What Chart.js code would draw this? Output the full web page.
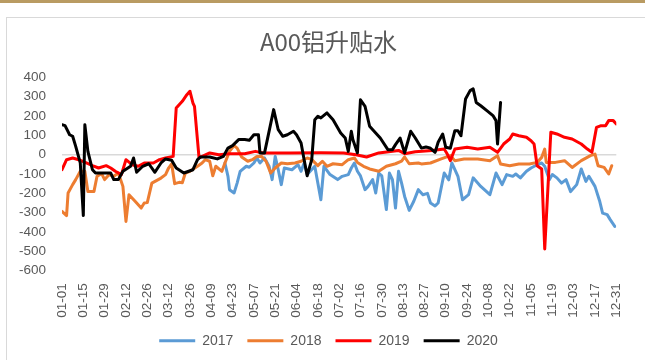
<!DOCTYPE html>
<html>
<head>
<meta charset="utf-8">
<script src="https://cdn.jsdelivr.net/npm/chart.js@4/dist/chart.umd.min.js"></script>
<style>
  html, body { margin: 0; padding: 0; background: #fff; }
  body { width: 645px; height: 360px; position: relative; overflow: hidden; }
  #topbar { position: absolute; left: 0; top: 0; width: 645px; height: 3px; background: #B99B62; }
  #frame { position: absolute; left: 6px; top: 17px; width: 660px; height: 360px;
           border-left: 1px solid #D9D9D9; border-top: 1px solid #D9D9D9; }
  #wrap { position: absolute; left: 0; top: 0; width: 645px; height: 360px; }
</style>
</head>
<body>
<div id="topbar"></div>
<div id="frame"></div>
<div id="wrap"><canvas id="chart"></canvas></div>
<script>
// x = day of year (0 = 01-01), y = premium / discount
const tickLabels = ['01-01', '01-15', '01-29', '02-12', '02-26', '03-12', '03-26', '04-09', '04-23',
    '05-07', '05-21', '06-04', '06-18', '07-02', '07-16', '07-30', '08-13', '08-27', '09-10',
    '09-24', '10-08', '10-22', '11-05', '11-19', '12-03', '12-17', '12-31'];

const seriesNames = ['2017', '2018', '2019', '2020'];
const seriesColors = ['#5B9BD5', '#ED7D31', '#FF0000', '#000000'];

const s2017 = [[107,-43],[109,-112],[110,-181],[113,-198],[115,-147],[117,-86],[121,-60],[123,-65],
    [126,-43],[128,-17],[130,-43],[133,-17],[136,-60],[138,-129],[140,-9],[142,-78],[144,-155],[146,-69],
    [151,-78],[155,-52],[157,-86],[159,-43],[161,-103],[166,-60],[170,-233],[172,-60],[176,-103],[181,-129],
    [184,-112],[188,-103],[190,-69],[192,-43],[194,-86],[196,-110],[199,-181],[201,-164],[204,-129],[206,-198],
    [208,-95],[210,-110],[213,-284],[215,-95],[217,-129],[219,-276],[221,-86],[223,-147],[225,-216],[228,-288],
    [231,-241],[234,-181],[237,-207],[240,-200],[242,-250],[245,-265],[247,-250],[251,-95],[254,-130],
    [256,-43],[260,-112],[263,-233],[267,-207],[270,-120],[275,-164],[281,-207],[285,-95],[289,-155],
    [292,-103],[296,-112],[298,-100],[301,-120],[305,-86],[308,-69],[312,-52],[315,-43],[317,-60],[320,-129],
    [322,-103],[325,-120],[328,-147],[331,-129],[334,-191],[338,-155],[341,-74],[344,-138],[346,-112],
    [350,-164],[353,-238],[355,-302],[358,-310],[360,-336],[363,-371]];

const s2018 = [[0,-293],[3,-315],[4,-198],[7,-155],[9,-129],[12,-86],[15,-86],[17,-190],[21,-190],
    [23,-112],[26,-98],[28,-129],[31,-103],[34,-112],[37,-95],[40,-164],[42,-345],[44,-207],[48,-241],
    [52,-276],[54,-250],[56,-248],[59,-147],[62,-134],[65,-121],[68,-103],[70,-69],[72,-47],[74,-150],
    [77,-143],[79,-145],[81,-95],[84,-86],[89,-60],[92,-43],[94,-26],[97,-34],[99,-109],[101,-60],[105,-86],
    [107,-43],[110,17],[113,47],[115,34],[118,-12],[122,-34],[125,-26],[128,-9],[131,-9],[134,-34],[137,-95],
    [140,-69],[144,-43],[148,-47],[153,-43],[157,-34],[161,-17],[164,-26],[168,-57],[171,-34],[174,-60],
    [178,-47],[184,-52],[188,-26],[192,-17],[194,-40],[198,-60],[202,-74],[208,-86],[213,-60],[219,-47],
    [223,-34],[225,-12],[228,-47],[234,-43],[236,-48],[242,-43],[249,-22],[255,-5],[258,-31],[264,-22],
    [273,-22],[281,-31],[286,-5],[288,-48],[294,-57],[300,-48],[307,-48],[312,-40],[315,-14],[317,29],
    [318,-40],[324,-40],[330,-31],[335,-66],[341,-31],[347,-5],[350,3],[352,-57],[356,-66],[359,-100],[361,-57]];

const s2019 = [[0,-78],[3,-26],[7,-17],[11,-26],[16,-43],[20,-57],[24,-69],[29,-57],[32,-69],[35,-86],
    [39,-103],[42,-26],[46,-52],[50,-60],[54,-43],[60,-43],[64,-26],[68,-17],[73,-9],[75,241],[79,276],
    [82,310],[84,328],[86,267],[87,250],[90,-17],[97,9],[103,0],[110,5],[120,5],[127,17],[132,9],[150,9],
    [170,10],[185,9],[193,0],[200,-12],[208,9],[221,22],[225,5],[232,15],[243,21],[251,29],[253,3],[255,-31],
    [258,29],[266,38],[273,29],[281,38],[286,12],[290,55],[294,81],[296,107],[300,98],[305,90],[308,72],
    [310,55],[312,-57],[315,-74],[317,-488],[321,116],[325,107],[330,90],[335,81],[341,55],[345,29],[348,12],
    [351,141],[354,150],[357,150],[359,176],[362,176],[364,159]];

const s2020 = [[0,155],[2,150],[5,103],[7,95],[9,43],[12,-43],[14,-315],[15,155],[17,17],[20,-78],
    [22,-95],[32,-95],[34,-129],[37,-129],[40,-86],[45,-60],[47,-17],[49,-91],[53,-60],[57,-47],[61,-91],
    [65,-43],[68,-22],[72,-29],[75,-69],[80,-95],[86,-78],[89,-26],[91,-12],[97,-12],[102,-22],[106,-9],
    [109,34],[112,47],[116,78],[120,78],[123,74],[126,103],[129,103],[130,9],[133,9],[139,233],[142,129],
    [145,95],[148,103],[152,121],[154,103],[157,60],[159,-26],[161,-109],[164,-26],[166,181],[168,198],
    [170,190],[174,216],[178,181],[183,112],[186,86],[188,17],[190,121],[191,78],[194,9],[196,284],[199,250],
    [202,147],[206,112],[209,86],[214,26],[217,26],[219,52],[222,86],[225,9],[229,121],[232,86],[236,34],
    [239,40],[242,33],[245,12],[247,64],[250,107],[252,38],[255,33],[258,124],[260,124],[262,98],[265,288],
    [268,331],[270,340],[272,270],[275,253],[279,228],[283,202],[285,176],[286,55],[288,270]];

const seriesData = [s2017, s2018, s2019, s2020];

const textColor = '#595959';
const axisFont = { family: '"Liberation Sans", Arial, sans-serif', size: 13.5 };
const legendFont = { family: '"Liberation Sans", Arial, sans-serif', size: 14 };

const datasets = seriesNames.map((name, i) => ({
    label: name,
    data: seriesData[i].map(p => ({ x: p[0], y: p[1] })),
    borderColor: seriesColors[i],
    backgroundColor: seriesColors[i],
    borderWidth: 3,
    pointRadius: 0,
    borderJoinStyle: 'round',
    borderCapStyle: 'round',
    tension: 0,
    order: seriesNames.length - i   // later years painted on top
}));

new Chart(document.getElementById('chart'), {
    type: 'line',
    data: { datasets: datasets },
    options: {
        responsive: true,
        maintainAspectRatio: false,
        animation: false,
        layout: { padding: { left: 12, right: 0, top: 0, bottom: 2.3 } },
        plugins: {
            title: {
                display: true,
                text: 'A00铝升贴水',
                color: textColor,
                font: { family: '"Noto Sans CJK SC", sans-serif', size: 24, weight: 'normal' },
                padding: { top: 27.3, bottom: 21.2 }
            },
            legend: {
                position: 'bottom',
                labels: {
                    color: textColor,
                    font: legendFont,
                    boxWidth: 36,
                    boxHeight: 3,
                    padding: 14,
                    sort: (a, b) => a.datasetIndex - b.datasetIndex,
                    generateLabels(chart) {
                        const items = Chart.defaults.plugins.legend.labels.generateLabels(chart);
                        items.forEach(it => { it.lineWidth = 0; });
                        return items;
                    }
                }
            },
            tooltip: { enabled: false }
        },
        scales: {
            x: {
                type: 'linear',
                min: 0,
                max: 364,
                grid: { display: false, drawTicks: false },
                border: { display: false },
                afterFit(scale) { scale.height = 49; },
                ticks: {
                    stepSize: 14,
                    autoSkip: false,
                    maxRotation: 90,
                    minRotation: 90,
                    padding: 12.5,
                    color: textColor,
                    font: axisFont,
                    callback: (v) => tickLabels[Math.round(v / 14)]
                }
            },
            y: {
                min: -600,
                max: 400,
                border: { display: false },
                afterFit(scale) { scale.width = 50; },
                grid: {
                    drawTicks: false,
                    lineWidth: 1.5,
                    color: (ctx) => ctx.tick && ctx.tick.value === 0 ? '#D9D9D9' : 'rgba(0,0,0,0)'
                },
                ticks: {
                    stepSize: 100,
                    padding: 16,
                    color: textColor,
                    font: axisFont
                }
            },
            // empty right-hand margin so the plot stops short of the frame edge
            yRight: {
                type: 'linear',
                position: 'right',
                grid: { display: false },
                border: { display: false },
                ticks: { display: false },
                afterFit(scale) { scale.width = 16; }
            }
        }
    }
});
</script>
</body>
</html>
